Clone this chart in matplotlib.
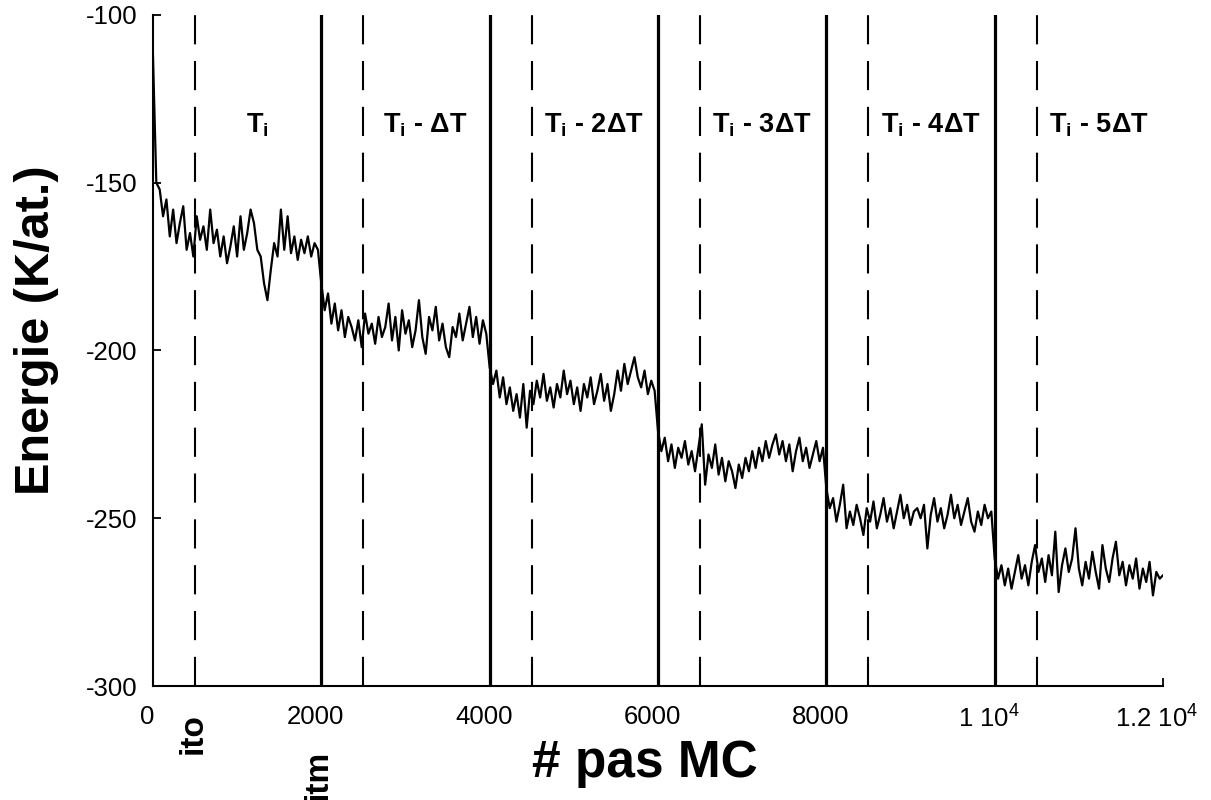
import matplotlib
matplotlib.use('Agg')
import matplotlib.pyplot as plt
import matplotlib.transforms as mtransforms
import numpy as np

plt.rcParams['font.family'] = ['Liberation Sans', 'DejaVu Sans']
plt.rcParams['mathtext.fontset'] = 'custom'
plt.rcParams['mathtext.rm'] = 'Liberation Sans'
plt.rcParams['mathtext.bf'] = 'Liberation Sans:bold'
plt.rcParams['mathtext.it'] = 'Liberation Sans:italic'
plt.rcParams['axes.unicode_minus'] = False

# energy, one value every 40 MC steps, one list per temperature
step = 40
seg_t0 = [-112, -150, -152, -160, -155, -166, -158, -168, -162, -157,
          -170, -165, -172, -160, -167, -163, -170, -158, -168, -164,
          -172, -166, -174, -169, -163, -172, -160, -170, -165, -158,
          -162, -170, -172, -180, -185, -176, -168, -172, -158, -170,
          -160, -171, -166, -173, -167, -171, -166, -172, -168, -170]
seg_t1 = [-180, -188, -183, -192, -186, -194, -188, -196, -190, -193,
          -197, -191, -199, -189, -195, -192, -198, -190, -196, -193,
          -186, -197, -190, -200, -188, -195, -191, -199, -194, -185,
          -196, -201, -190, -194, -187, -197, -192, -199, -202, -193,
          -196, -189, -197, -192, -187, -196, -190, -198, -191, -195]
seg_t2 = [-205, -210, -206, -214, -208, -216, -211, -218, -213, -220,
          -210, -223, -212, -216, -209, -214, -207, -215, -211, -217,
          -210, -214, -206, -213, -209, -216, -211, -218, -210, -214,
          -208, -216, -212, -207, -215, -210, -218, -213, -206, -212,
          -204, -210, -206, -202, -208, -211, -206, -213, -209, -212]
seg_t3 = [-224, -230, -226, -233, -228, -235, -229, -232, -227, -234,
          -230, -236, -229, -222, -240, -231, -235, -228, -237, -232,
          -239, -233, -236, -241, -234, -238, -232, -236, -230, -235,
          -229, -233, -227, -232, -228, -225, -231, -227, -233, -228,
          -236, -230, -226, -233, -229, -235, -231, -227, -233, -229]
seg_t4 = [-241, -247, -244, -251, -246, -240, -253, -248, -252, -246,
          -250, -255, -247, -251, -245, -253, -249, -244, -251, -247,
          -253, -248, -243, -250, -246, -252, -248, -247, -250, -246,
          -259, -249, -244, -251, -247, -253, -249, -243, -250, -246,
          -252, -248, -244, -251, -254, -248, -252, -246, -250, -248]
seg_t5 = [-262, -268, -264, -270, -265, -271, -266, -261, -268, -264,
          -270, -263, -258, -266, -262, -269, -261, -267, -254, -272,
          -264, -259, -266, -262, -253, -265, -270, -263, -268, -260,
          -266, -271, -258, -265, -269, -262, -257, -267, -263, -270,
          -264, -268, -262, -271, -265, -269, -263, -273, -266, -268,
          -267]

energy = np.array(seg_t0 + seg_t1 + seg_t2 + seg_t3 + seg_t4 + seg_t5)
steps = np.arange(len(energy)) * step

temp_changes = [2000, 4000, 6000, 8000, 10000]
equil_marks = [500, 2500, 4500, 6500, 8500, 10500]
region_labels = [r'$\mathbf{T_i}$', r'$\mathbf{T_i}$ - ΔT', r'$\mathbf{T_i}$ - 2ΔT',
                 r'$\mathbf{T_i}$ - 3ΔT', r'$\mathbf{T_i}$ - 4ΔT', r'$\mathbf{T_i}$ - 5ΔT']
label_x = [1240, 3240, 5240, 7240, 9240, 11240]
xticks = [0, 2000, 4000, 6000, 8000, 10000, 12000]
xticklabels = ['0', '2000', '4000', '6000', '8000', r'1 10$^4$', r'1.2 10$^4$']
yticks = [-300, -250, -200, -150, -100]

fig = plt.figure(figsize=(12.11, 8.0), dpi=100)
ax = fig.add_axes([0.1263, 0.1425, 0.8341, 0.8388])

ax.plot(steps, energy, color='black', lw=1.6)

for x in temp_changes:
    ax.axvline(x, color='black', lw=2.3)
for x in equil_marks:
    ax.axvline(x, color='black', lw=1.5, dashes=(14, 8))

for x, lab in zip(label_x, region_labels):
    ax.text(x, -135, lab, ha='center', va='baseline', fontsize=19.5, fontweight='bold')

ax.set_xlim(0, 12000)
ax.set_ylim(-300, -100)
ax.set_xticks(xticks)
ax.set_xticklabels(xticklabels)
ax.set_yticks(yticks)
ax.tick_params(direction='in', length=6, width=1.3, labelsize=18.5)
ax.tick_params(axis='y', pad=11)
ax.tick_params(axis='x', pad=14)
ax.spines['top'].set_visible(False)
ax.spines['right'].set_visible(False)
ax.spines['left'].set_linewidth(1.5)
ax.spines['bottom'].set_linewidth(1.5)

shift = mtransforms.ScaledTranslation(-6 / 100, 0, fig.dpi_scale_trans)
for lab in ax.get_xticklabels():
    lab.set_transform(lab.get_transform() + shift)

trans = mtransforms.blended_transform_factory(ax.transData, ax.transAxes)
ax.text(480, -0.040, 'ito', transform=trans, rotation=90, ha='center', va='top',
        fontsize=24, fontweight='bold', clip_on=False)
ax.text(1960, -0.095, 'itm', transform=trans, rotation=90, ha='center', va='top',
        fontsize=24, fontweight='bold', clip_on=False)

ax.text(0.487, -0.1356, '# pas MC', transform=ax.transAxes, ha='center', va='baseline',
        fontsize=37, fontweight='bold')
ax.text(-0.115, 0.53, 'Energie (K/at.)', transform=ax.transAxes, rotation=90,
        ha='center', va='center', fontsize=35, fontweight='bold')

fig.savefig('out.png', dpi=100)
